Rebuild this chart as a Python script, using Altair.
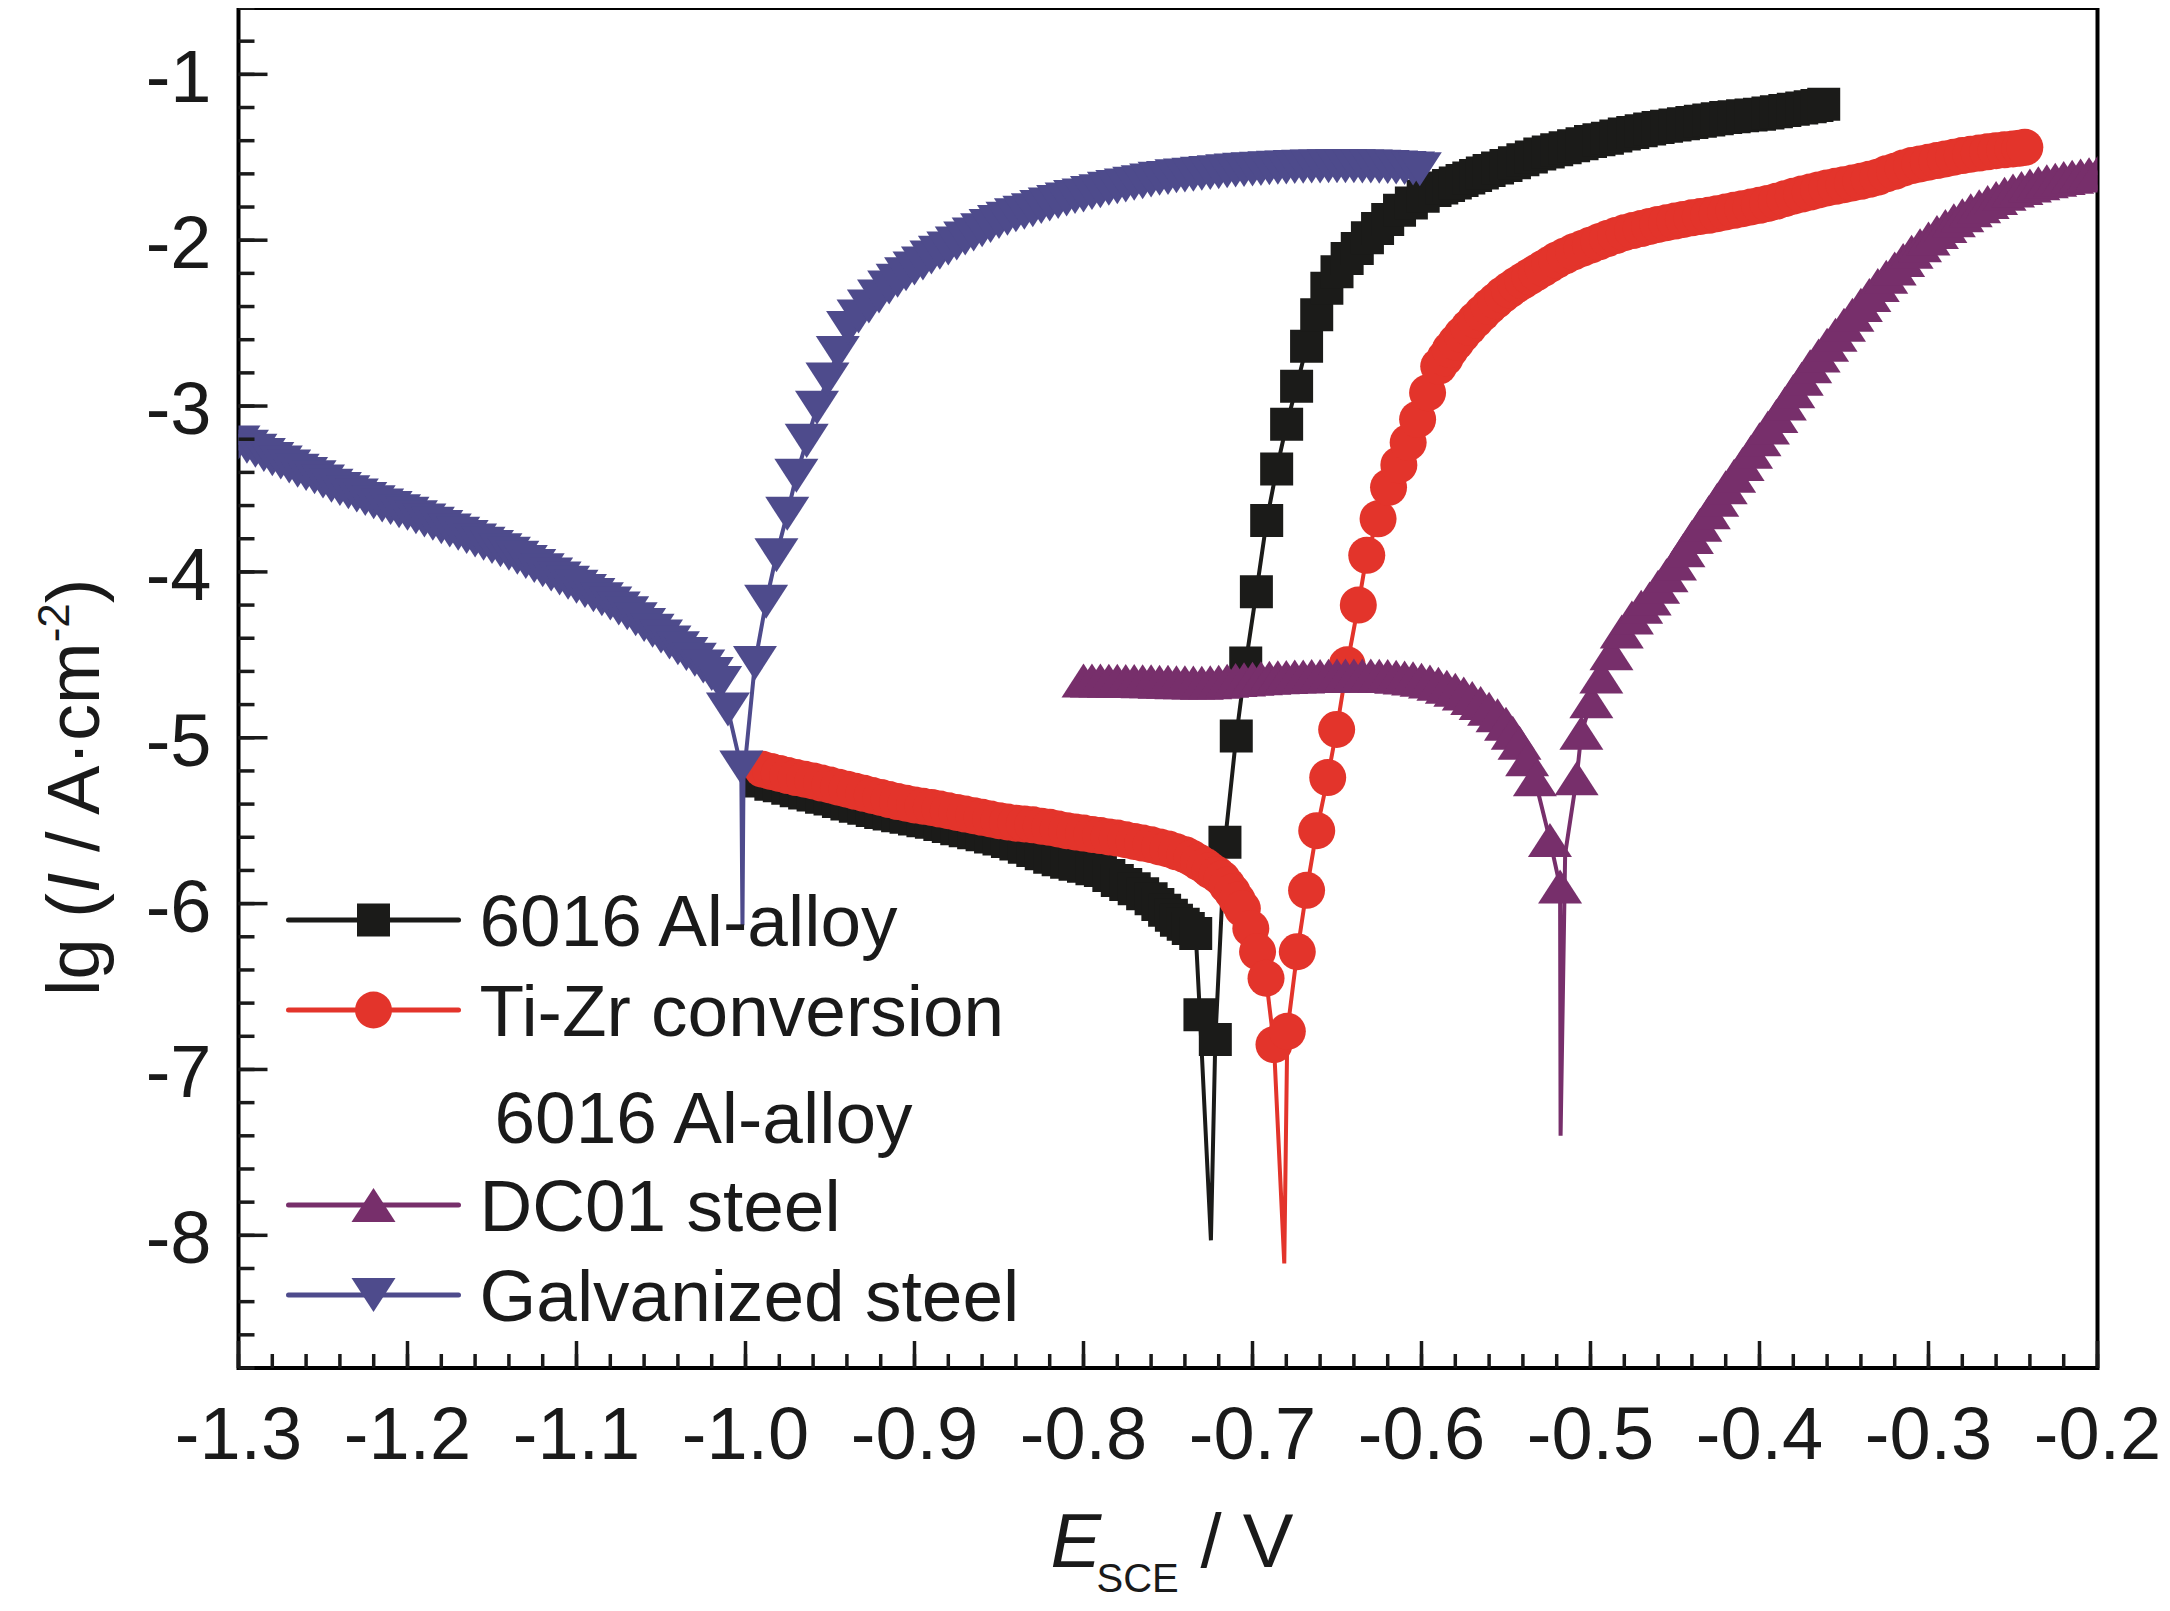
import altair as alt
import pandas as pd

FONT = "Liberation Sans"
INK = "#1a1a1a"

# ---------------- axis ticks ----------------
X_MAJOR = [-1.3, -1.2, -1.1, -1.0, -0.9, -0.8, -0.7, -0.6, -0.5, -0.4, -0.3, -0.2]
Y_MAJOR = [-8, -7, -6, -5, -4, -3, -2, -1]
X_MINOR = [round(-1.3 + 0.02 * i, 2) for i in range(56)]
Y_MINOR = [round(-8.8 + 0.2 * i, 1) for i in range(42)]
X_LABELS = ["-1.3", "-1.2", "-1.1", "-1.0", "-0.9", "-0.8", "-0.7", "-0.6", "-0.5", "-0.4", "-0.3", "-0.2"]
Y_LABELS = ["-8", "-7", "-6", "-5", "-4", "-3", "-2", "-1"]

# ---------------- data: E (V vs SCE) and lg(i / A cm^-2) ----------------
# 6016 Al-alloy
AL_E = [-0.992, -0.985, -0.980, -0.975, -0.970, -0.965, -0.960, -0.955, -0.950, -0.945,
        -0.940, -0.935, -0.930, -0.925, -0.920, -0.915, -0.910, -0.905, -0.900, -0.895,
        -0.890, -0.885, -0.880, -0.875, -0.870, -0.865, -0.860, -0.855, -0.850, -0.845,
        -0.840, -0.835, -0.830, -0.825, -0.820, -0.815, -0.810, -0.805, -0.800, -0.795,
        -0.790, -0.785, -0.780, -0.775, -0.770, -0.765, -0.760, -0.756, -0.752, -0.748,
        -0.745, -0.741, -0.738, -0.7336, -0.7311,
        -0.7220, -0.7163, -0.7096, -0.7040, -0.6977, -0.6916, -0.6857, -0.6798, -0.6739,
        -0.6680, -0.6620, -0.6560, -0.650, -0.644, -0.638, -0.632, -0.626, -0.620, -0.613,
        -0.606, -0.599, -0.592, -0.588, -0.584, -0.580, -0.576, -0.572, -0.568, -0.564,
        -0.560, -0.555, -0.550, -0.545, -0.540, -0.535, -0.530, -0.525, -0.520, -0.515,
        -0.510, -0.505, -0.500, -0.495, -0.490, -0.485, -0.480, -0.475, -0.470, -0.465,
        -0.460, -0.455, -0.450, -0.445, -0.440, -0.435, -0.430, -0.425, -0.420, -0.415,
        -0.410, -0.405, -0.400, -0.395, -0.390, -0.385, -0.380, -0.375, -0.370, -0.366,
        -0.362]
AL_I = [-5.26, -5.28, -5.29, -5.305, -5.32, -5.333, -5.345, -5.358, -5.37, -5.385,
        -5.40, -5.413, -5.425, -5.438, -5.45, -5.46, -5.47, -5.48, -5.49, -5.50,
        -5.51, -5.523, -5.535, -5.548, -5.56, -5.573, -5.585, -5.598, -5.61, -5.625,
        -5.64, -5.66, -5.68, -5.70, -5.72, -5.735, -5.75, -5.763, -5.775, -5.79,
        -5.80, -5.83, -5.86, -5.885, -5.91, -5.94, -5.97, -6.005, -6.04, -6.07,
        -6.10, -6.125, -6.15, -6.18, -6.67,
        -6.82, -5.63, -4.99, -4.55, -4.12, -3.69, -3.38, -3.11, -2.88,
        -2.64, -2.45, -2.29, -2.19, -2.11, -2.05, -1.985, -1.93, -1.875, -1.82,
        -1.775, -1.735, -1.70, -1.685, -1.67, -1.655, -1.64, -1.625, -1.61, -1.595,
        -1.58, -1.565, -1.55, -1.533, -1.515, -1.498, -1.48, -1.468, -1.455, -1.443,
        -1.43, -1.418, -1.405, -1.395, -1.385, -1.372, -1.36, -1.35, -1.34, -1.33,
        -1.32, -1.313, -1.305, -1.298, -1.29, -1.283, -1.275, -1.268, -1.26, -1.255,
        -1.25, -1.245, -1.24, -1.233, -1.225, -1.218, -1.21, -1.203, -1.195, -1.188,
        -1.18]
AL_SPIKE_E = [-0.7246]
AL_SPIKE_I = [-8.03]

# Ti-Zr conversion 6016 Al-alloy
TZ_E = [-0.990, -0.985, -0.980, -0.975, -0.970, -0.965, -0.960, -0.955, -0.950, -0.945,
        -0.940, -0.935, -0.930, -0.925, -0.920, -0.915, -0.910, -0.905, -0.900, -0.895,
        -0.890, -0.885, -0.880, -0.875, -0.870, -0.865, -0.860, -0.855, -0.850, -0.845,
        -0.840, -0.835, -0.830, -0.825, -0.820, -0.815, -0.810, -0.805, -0.800, -0.795,
        -0.790, -0.785, -0.780, -0.775, -0.770, -0.765, -0.760, -0.755, -0.750, -0.745,
        -0.740, -0.736, -0.732, -0.728, -0.725, -0.721, -0.718, -0.715, -0.712, -0.709,
        -0.706, -0.701, -0.697, -0.692, -0.6873,
        -0.6794, -0.6735, -0.6680, -0.6620, -0.6555, -0.6502, -0.6440, -0.6374, -0.6324,
        -0.6257, -0.6195, -0.6134, -0.6079, -0.6023, -0.5964, -0.5898, -0.586, -0.583,
        -0.5795, -0.576, -0.572, -0.568, -0.564, -0.560, -0.556, -0.552, -0.548, -0.544,
        -0.540, -0.536, -0.532, -0.528, -0.524, -0.520, -0.515, -0.510, -0.505, -0.500,
        -0.495, -0.490, -0.485, -0.480, -0.475, -0.470, -0.465, -0.460, -0.455, -0.450,
        -0.445, -0.440, -0.435, -0.430, -0.425, -0.420, -0.415, -0.410, -0.405, -0.400,
        -0.395, -0.390, -0.385, -0.380, -0.375, -0.370, -0.365, -0.360, -0.355, -0.350,
        -0.345, -0.340, -0.335, -0.330, -0.325, -0.320, -0.315, -0.310, -0.305, -0.300,
        -0.295, -0.290, -0.285, -0.280, -0.275, -0.270, -0.265, -0.260, -0.255, -0.250,
        -0.246, -0.243]
TZ_I = [-5.19, -5.203, -5.215, -5.228, -5.24, -5.25, -5.26, -5.273, -5.285, -5.298,
        -5.31, -5.323, -5.335, -5.348, -5.36, -5.373, -5.385, -5.395, -5.405, -5.413,
        -5.42, -5.43, -5.44, -5.45, -5.46, -5.47, -5.48, -5.49, -5.50, -5.508,
        -5.515, -5.52, -5.525, -5.533, -5.54, -5.55, -5.56, -5.568, -5.575, -5.583,
        -5.59, -5.598, -5.605, -5.615, -5.625, -5.635, -5.645, -5.658, -5.67, -5.688,
        -5.705, -5.725, -5.75, -5.775, -5.80, -5.825, -5.85, -5.89, -5.93, -5.98,
        -6.03, -6.15, -6.29, -6.45, -6.85,
        -6.77, -6.29, -5.92, -5.56, -5.24, -4.95, -4.56, -4.20, -3.90,
        -3.68, -3.49, -3.355, -3.22, -3.08, -2.92, -2.76, -2.71, -2.66,
        -2.615, -2.57, -2.525, -2.48, -2.44, -2.40, -2.365, -2.33, -2.30, -2.27,
        -2.245, -2.22, -2.195, -2.17, -2.145, -2.12, -2.095, -2.07, -2.05, -2.03,
        -2.01, -1.99, -1.972, -1.955, -1.942, -1.93, -1.917, -1.905, -1.895, -1.885,
        -1.875, -1.865, -1.857, -1.85, -1.84, -1.83, -1.82, -1.81, -1.80, -1.79,
        -1.778, -1.765, -1.75, -1.735, -1.722, -1.71, -1.697, -1.685, -1.675, -1.665,
        -1.655, -1.645, -1.633, -1.62, -1.60, -1.585, -1.565, -1.55, -1.54, -1.53,
        -1.52, -1.51, -1.50, -1.49, -1.482, -1.475, -1.467, -1.46, -1.455, -1.45,
        -1.445, -1.44]
TZ_SPIKE_E = [-0.6812]
TZ_SPIKE_I = [-8.17]

# DC01 steel
DC_E = [-0.800, -0.795, -0.790, -0.785, -0.780, -0.775, -0.770, -0.765, -0.760, -0.755,
        -0.750, -0.745, -0.740, -0.735, -0.730, -0.725, -0.720, -0.715, -0.710, -0.705,
        -0.700, -0.695, -0.690, -0.685, -0.680, -0.675, -0.670, -0.665, -0.660, -0.655,
        -0.650, -0.645, -0.640, -0.635, -0.630, -0.625, -0.620, -0.615, -0.610, -0.605,
        -0.600, -0.595, -0.590, -0.585, -0.580, -0.575, -0.570, -0.565, -0.560, -0.555,
        -0.550, -0.546, -0.542, -0.5375, -0.5329, -0.5240, -0.5180,
        -0.5082, -0.5054, -0.4995, -0.4936, -0.4876, -0.4815, -0.4755, -0.470, -0.465,
        -0.460, -0.455, -0.450, -0.445, -0.440, -0.435, -0.430, -0.425, -0.420, -0.415,
        -0.410, -0.405, -0.400, -0.395, -0.390, -0.385, -0.380, -0.375, -0.370, -0.365,
        -0.360, -0.355, -0.350, -0.345, -0.340, -0.335, -0.330, -0.325, -0.320, -0.315,
        -0.310, -0.305, -0.300, -0.295, -0.290, -0.285, -0.280, -0.275, -0.270, -0.265,
        -0.260, -0.255, -0.250, -0.245, -0.240, -0.235, -0.230, -0.225, -0.220, -0.215,
        -0.210, -0.205, -0.200]
DC_I = [-4.655, -4.655, -4.655, -4.656, -4.657, -4.658, -4.658, -4.659, -4.660, -4.662,
        -4.663, -4.665, -4.666, -4.667, -4.668, -4.665, -4.662, -4.657, -4.652, -4.648,
        -4.644, -4.641, -4.638, -4.635, -4.633, -4.631, -4.630, -4.628, -4.627, -4.626,
        -4.625, -4.624, -4.624, -4.624, -4.625, -4.626, -4.628, -4.632, -4.636, -4.642,
        -4.650, -4.661, -4.675, -4.692, -4.710, -4.733, -4.760, -4.79, -4.825, -4.865,
        -4.915, -4.97, -5.03, -5.13, -5.25, -5.617, -5.897,
        -5.244, -4.97, -4.78, -4.63, -4.49, -4.36, -4.275, -4.21, -4.16,
        -4.09, -4.02, -3.95, -3.87, -3.79, -3.715, -3.64, -3.565, -3.49, -3.42,
        -3.35, -3.275, -3.20, -3.13, -3.06, -2.985, -2.91, -2.835, -2.76, -2.695,
        -2.63, -2.57, -2.51, -2.45, -2.39, -2.33, -2.27, -2.22, -2.17, -2.12,
        -2.07, -2.03, -1.99, -1.95, -1.915, -1.88, -1.85, -1.82, -1.795, -1.77,
        -1.745, -1.72, -1.70, -1.685, -1.67, -1.657, -1.645, -1.635, -1.625, -1.617,
        -1.61, -1.602, -1.595]
DC_SPIKE_E = [-0.5177, -0.5150]
DC_SPIKE_I = [-7.40, -5.70]

# Galvanized steel
GS_E = [-1.300, -1.295, -1.290, -1.285, -1.280, -1.275, -1.270, -1.265, -1.260, -1.255,
        -1.250, -1.245, -1.240, -1.235, -1.230, -1.225, -1.220, -1.215, -1.210, -1.205,
        -1.200, -1.195, -1.190, -1.185, -1.180, -1.175, -1.170, -1.165, -1.160, -1.155,
        -1.150, -1.145, -1.140, -1.135, -1.130, -1.125, -1.120, -1.115, -1.110, -1.105,
        -1.100, -1.095, -1.090, -1.085, -1.080, -1.075, -1.070, -1.065, -1.060, -1.055,
        -1.050, -1.045, -1.040, -1.035, -1.030, -1.025, -1.020, -1.015, -1.0104, -1.0025,
        -0.9944, -0.9878, -0.9817, -0.9753, -0.9699, -0.9638, -0.9577, -0.9515, -0.9454,
        -0.9393, -0.9331, -0.927, -0.921, -0.915, -0.910, -0.905, -0.900, -0.895, -0.890,
        -0.885, -0.880, -0.875, -0.870, -0.865, -0.860, -0.855, -0.850, -0.845, -0.840,
        -0.835, -0.830, -0.825, -0.820, -0.815, -0.810, -0.805, -0.800, -0.795, -0.790,
        -0.785, -0.780, -0.775, -0.770, -0.765, -0.760, -0.755, -0.750, -0.745, -0.740,
        -0.735, -0.730, -0.725, -0.720, -0.715, -0.710, -0.705, -0.700, -0.695, -0.690,
        -0.685, -0.680, -0.675, -0.670, -0.665, -0.660, -0.655, -0.650, -0.645, -0.640,
        -0.635, -0.630, -0.625, -0.620, -0.615, -0.610, -0.605, -0.601]
GS_I = [-3.22, -3.245, -3.27, -3.295, -3.32, -3.34, -3.365, -3.39, -3.41, -3.43,
        -3.455, -3.48, -3.50, -3.52, -3.54, -3.56, -3.58, -3.60, -3.615, -3.635,
        -3.65, -3.67, -3.69, -3.71, -3.73, -3.75, -3.77, -3.79, -3.81, -3.83,
        -3.85, -3.87, -3.89, -3.915, -3.94, -3.965, -3.99, -4.015, -4.04, -4.065,
        -4.09, -4.115, -4.14, -4.165, -4.19, -4.22, -4.25, -4.285, -4.32, -4.355,
        -4.39, -4.425, -4.46, -4.495, -4.53, -4.57, -4.615, -4.67, -4.83, -5.18,
        -4.55, -4.18, -3.90, -3.65, -3.42, -3.21, -3.01, -2.84, -2.68,
        -2.53, -2.46, -2.40, -2.34, -2.285, -2.245, -2.205, -2.17, -2.14, -2.105,
        -2.075, -2.05, -2.02, -1.99, -1.965, -1.94, -1.915, -1.89, -1.87, -1.85,
        -1.835, -1.82, -1.80, -1.785, -1.77, -1.755, -1.74, -1.73, -1.715, -1.705,
        -1.69, -1.68, -1.67, -1.66, -1.65, -1.64, -1.63, -1.625, -1.615, -1.61,
        -1.605, -1.60, -1.595, -1.59, -1.585, -1.58, -1.576, -1.573, -1.57, -1.566,
        -1.563, -1.561, -1.559, -1.557, -1.556, -1.555, -1.554, -1.554, -1.554, -1.554,
        -1.555, -1.556, -1.557, -1.559, -1.561, -1.564, -1.568, -1.572]
GS_SPIKE_E = [-1.0018, -1.0012]
GS_SPIKE_I = [-6.13, -5.25]

LEGEND_LABELS = ["6016 Al-alloy", "Ti-Zr conversion", "6016 Al-alloy", "DC01 steel", "Galvanized steel"]

# ---------------- styles ----------------
TRI_UP = "M0,-0.773L1,0.773L-1,0.773Z"
TRI_DOWN = "M-1,-0.773L1,-0.773L0,0.773Z"
SERIES = [
    dict(E=AL_E, I=AL_I, sE=AL_SPIKE_E, sI=AL_SPIKE_I, color="#1b1b19", shape="square", size=1089),
    dict(E=TZ_E, I=TZ_I, sE=TZ_SPIKE_E, sI=TZ_SPIKE_I, color="#e3342b", shape="circle", size=1369),
    dict(E=DC_E, I=DC_I, sE=DC_SPIKE_E, sI=DC_SPIKE_I, color="#772f6b", shape=TRI_UP, size=1936),
    dict(E=GS_E, I=GS_I, sE=GS_SPIKE_E, sI=GS_SPIKE_I, color="#4e4b8c", shape=TRI_DOWN, size=1936),
]

W, H = 1859, 1360
LABEL_SIZE = 74
xscale = alt.Scale(domain=[-1.3, -0.2], nice=False, zero=False)
yscale = alt.Scale(domain=[-8.8, -0.6], nice=False, zero=False)

layers = []

# series (drawn in legend order: black, red, purple, blue on top)
for s in SERIES:
    pts = pd.DataFrame({"E": s["E"], "I": s["I"]})
    line_df = pd.concat([pts, pd.DataFrame({"E": s["sE"], "I": s["sI"]})]).sort_values("E")
    line = alt.Chart(line_df).mark_line(color=s["color"], strokeWidth=4, clip=True).encode(
        x=alt.X("E:Q", scale=xscale, axis=None),
        y=alt.Y("I:Q", scale=yscale, axis=None),
        order=alt.Order("E:Q"))
    mk = alt.Chart(pts).mark_point(shape=s["shape"], size=s["size"], filled=True, color=s["color"],
                                   opacity=1, strokeWidth=0, clip=True).encode(
        x=alt.X("E:Q", scale=xscale, axis=None),
        y=alt.Y("I:Q", scale=yscale, axis=None))
    layers += [line, mk]

# inward ticks
def xticks(vals, length):
    return alt.Chart(pd.DataFrame({"v": vals})).mark_rule(color=INK, strokeWidth=3.5).encode(
        x=alt.X("v:Q", scale=xscale, axis=None), y=alt.value(H), y2=alt.value(H - length))

def yticks(vals, length):
    return alt.Chart(pd.DataFrame({"v": vals})).mark_rule(color=INK, strokeWidth=3.5).encode(
        y=alt.Y("v:Q", scale=yscale, axis=None), x=alt.value(0), x2=alt.value(length))

layers += [xticks(X_MINOR, 14), xticks(X_MAJOR, 27), yticks(Y_MINOR, 16), yticks(Y_MAJOR, 29)]

# tick labels
layers.append(alt.Chart(pd.DataFrame({"v": X_MAJOR, "t": X_LABELS})).mark_text(
    font=FONT, fontSize=LABEL_SIZE, color=INK, align="center", baseline="top").encode(
    x=alt.X("v:Q", scale=xscale, axis=None), y=alt.value(H + 33), text="t:N"))
layers.append(alt.Chart(pd.DataFrame({"v": Y_MAJOR, "t": Y_LABELS})).mark_text(
    font=FONT, fontSize=LABEL_SIZE, color=INK, align="right", baseline="middle", dy=6).encode(
    y=alt.Y("v:Q", scale=yscale, axis=None), x=alt.value(-27), text="t:N"))

# legend (inside plot, lower left)
one = pd.DataFrame({"k": [0]})
LEG_ROWS = [912, 1002, 1109, 1197, 1287]
LEG_SER = [0, 1, None, 2, 3]
for lab, ry, si in zip(LEGEND_LABELS, LEG_ROWS, LEG_SER):
    tx = 241 if si is not None else 256
    if si is not None:
        s = SERIES[si]
        layers.append(alt.Chart(one).mark_rule(color=s["color"], strokeWidth=5, strokeCap="round").encode(
            x=alt.value(50), x2=alt.value(220), y=alt.value(ry)))
        layers.append(alt.Chart(one).mark_point(shape=s["shape"], size=s["size"], filled=True,
                                                color=s["color"], opacity=1, strokeWidth=0).encode(
            x=alt.value(135), y=alt.value(ry)))
    layers.append(alt.Chart(one).mark_text(text=lab, font=FONT, fontSize=73, color=INK, align="left",
                                           baseline="middle").encode(x=alt.value(tx), y=alt.value(ry + 4)))

# text width helper (Arial / Liberation Sans advance widths, 1/1000 em)
ADV = {"l": 222, "g": 556, " ": 278, "(": 333, ")": 333, "I": 278, "/": 278, "A": 667,
       "\u00b7": 278, "c": 500, "m": 833, "-": 333, "2": 556}
def adv(t, size):
    return sum(ADV[ch] for ch in t) * size / 1000.0

# y-axis title: lg (I / A·cm^-2), rotated
TS = 74
bx, y0 = -139.5, 988
pieces = [("lg (", TS, "normal", 0)]
ypos = [y0]
cur = y0 - adv("lg (", TS)
ypos.append(cur); pieces.append(("I", TS, "italic", 0))
cur -= adv("I", TS) + adv(" ", TS)
ypos.append(cur); pieces.append(("/ A\u00b7cm", TS, "normal", 0))
cur -= adv("/ A\u00b7cm", TS)
ypos.append(cur); pieces.append(("-2", 44, "normal", -30))
cur -= adv("-2", 44)
ypos.append(cur); pieces.append((")", TS, "normal", 0))
for (t, fs, st, dx), yy in zip(pieces, ypos):
    layers.append(alt.Chart(one).mark_text(text=t, font=FONT, fontSize=fs, fontStyle=st, color=INK,
                                           angle=270, align="left", baseline="alphabetic").encode(
        x=alt.value(bx + dx), y=alt.value(yy)))

# x-axis title: E_SCE / V
layers.append(alt.Chart(one).mark_text(text="E", font=FONT, fontSize=76, fontStyle="italic", color=INK,
                                       align="left", baseline="alphabetic").encode(x=alt.value(812), y=alt.value(1559)))
layers.append(alt.Chart(one).mark_text(text="SCE", font=FONT, fontSize=40, color=INK,
                                       align="left", baseline="alphabetic").encode(x=alt.value(858), y=alt.value(1584)))
layers.append(alt.Chart(one).mark_text(text="/ V", font=FONT, fontSize=76, color=INK,
                                       align="left", baseline="alphabetic").encode(x=alt.value(962), y=alt.value(1559)))

chart = alt.layer(*layers).properties(
    width=W, height=H,
    autosize=alt.AutoSizeParams(type="none"),
    padding={"left": 230.5, "top": 0, "right": 63, "bottom": 234},
).configure_view(stroke="black", strokeWidth=4)

chart.save("out.html", embed_options={"renderer": "svg", "actions": False})
